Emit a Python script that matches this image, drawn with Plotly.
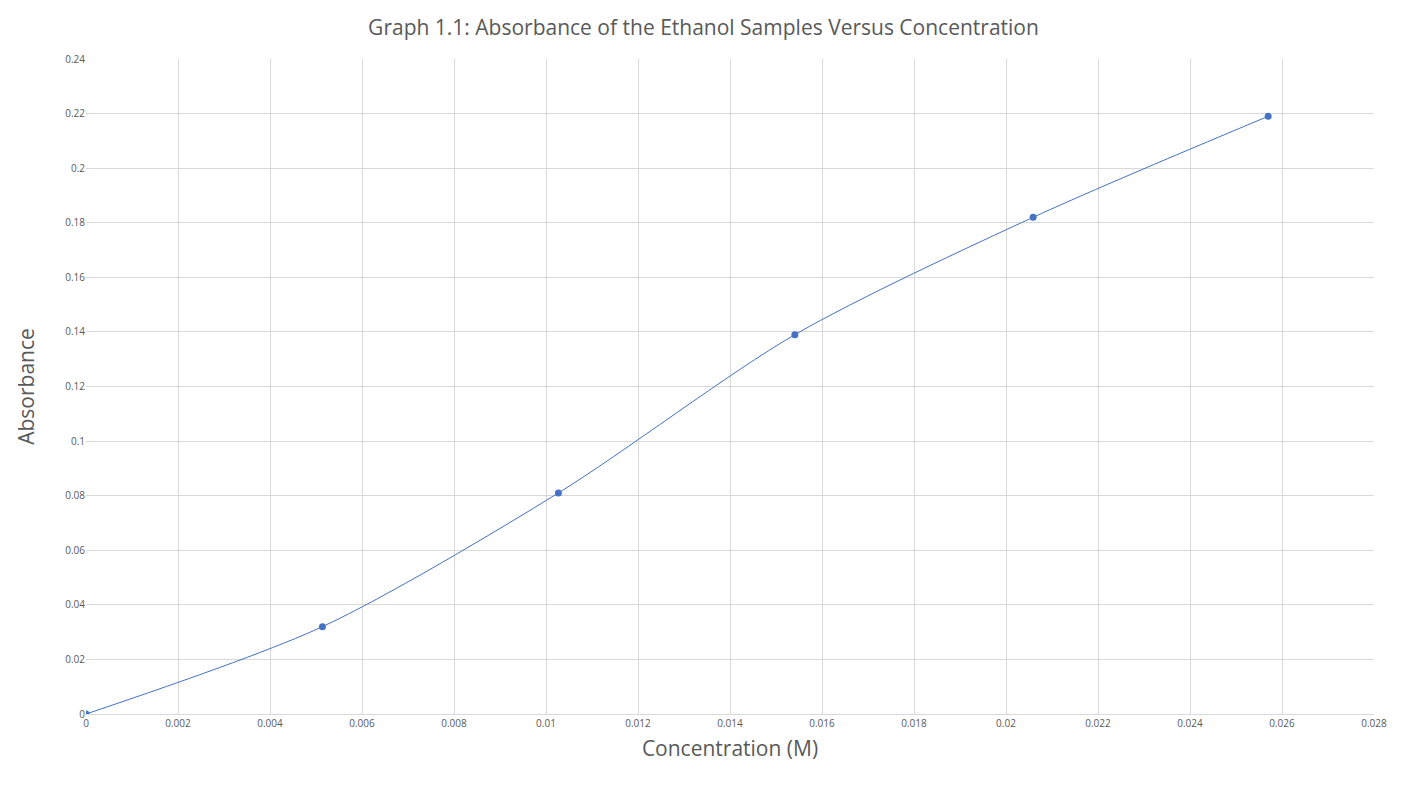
import plotly.graph_objects as go

conc = [0, 0.00514, 0.01027, 0.01541, 0.02059, 0.02570]
absorb = [0, 0.032, 0.081, 0.139, 0.182, 0.219]
xticks = [i*0.002 for i in range(15)]
xlabels = ["0","0.002","0.004","0.006","0.008","0.01","0.012","0.014","0.016","0.018","0.02","0.022","0.024","0.026","0.028"]
yticks = [i*0.02 for i in range(13)]
ylabels = ["0","0.02","0.04","0.06","0.08","0.1","0.12","0.14","0.16","0.18","0.2","0.22","0.24"]

fig = go.Figure(go.Scatter(x=conc, y=absorb, mode="lines+markers",
    line=dict(color="#4472C4", width=1, shape="spline", smoothing=0.8),
    marker=dict(color="#4472C4", size=7)))
fig.update_layout(width=1391, height=775, plot_bgcolor="white", paper_bgcolor="white",
    margin=dict(l=78, r=21, t=51, b=69), showlegend=False,
    font=dict(family="Open Sans", color="#595959"),
    title=dict(text="Graph 1.1: Absorbance of the Ethanol Samples Versus Concentration",
               x=0.5, xanchor="center", y=0.975, yanchor="middle", font=dict(size=21, color="#595959")))
fig.update_xaxes(range=[0, 0.028], tickvals=xticks, ticktext=xlabels, showgrid=True,
    gridcolor="#D9D9D9", zeroline=False, showline=True, linecolor="#D9D9D9",
    tickfont=dict(size=10), title=dict(text="Concentration (M)", font=dict(size=21), standoff=12))
fig.update_yaxes(range=[0, 0.24], tickvals=yticks, ticktext=ylabels, showgrid=True,
    gridcolor="#D9D9D9", zeroline=False, tickfont=dict(size=10),
    title=dict(text="Absorbance", font=dict(size=21), standoff=24))
fig.write_html("out.html")
